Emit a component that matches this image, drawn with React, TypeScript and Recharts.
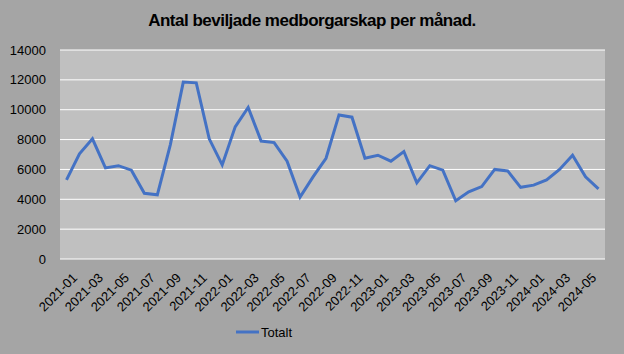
import { LineChart, Line, XAxis, YAxis, CartesianGrid, Legend } from "recharts";

const months = [
  "2021-01", "2021-02", "2021-03", "2021-04", "2021-05", "2021-06",
  "2021-07", "2021-08", "2021-09", "2021-10", "2021-11", "2021-12",
  "2022-01", "2022-02", "2022-03", "2022-04", "2022-05", "2022-06",
  "2022-07", "2022-08", "2022-09", "2022-10", "2022-11", "2022-12",
  "2023-01", "2023-02", "2023-03", "2023-04", "2023-05", "2023-06",
  "2023-07", "2023-08", "2023-09", "2023-10", "2023-11", "2023-12",
  "2024-01", "2024-02", "2024-03", "2024-04", "2024-05", "2024-06",
];

const totalt = [
  5300, 7050, 8050, 6100, 6250, 5950, 4400, 4300, 7650, 11850, 11800, 8050,
  6300, 8850, 10150, 7900, 7800, 6550, 4150, 5500, 6750, 9650, 9500, 6750,
  6950, 6550, 7200, 5100, 6250, 5950, 3900, 4500, 4850, 6000, 5900, 4800,
  4950, 5300, 6000, 6950, 5500, 4700,
];

const yTicks = [0, 2000, 4000, 6000, 8000, 10000, 12000, 14000];

const data = months.map((m, i) => ({ month: m, totalt: totalt[i] }));

const font = "'Liberation Sans', Arial, sans-serif";

function MonthTick(props: any) {
  const { x, y, payload } = props;
  return (
    <g transform={`translate(${x + 5},${y + 5})`}>
      <text transform="rotate(-45)" textAnchor="end" dy="0.71em" fill="#000" fontSize={13} fontFamily={font}>
        {payload.value}
      </text>
    </g>
  );
}

function LegendContent() {
  return (
    <div style={{ display: "flex", alignItems: "center", height: 26, paddingLeft: 236, fontFamily: font, fontSize: 13, color: "#000" }}>
      <svg width={24} height={10}>
        <line x1={0} y1={5} x2={23} y2={5} stroke="#4472c4" strokeWidth={3} />
      </svg>
      <span style={{ marginLeft: 1 }}>Totalt</span>
    </div>
  );
}

export default function App() {
  return (
    <div style={{ position: "absolute", left: 0, top: 0, width: 624, height: 354, background: "#a5a5a5" }}>
      <div
        style={{
          position: "absolute",
          top: 11,
          left: 0,
          width: 624,
          textAlign: "center",
          fontFamily: font,
          fontWeight: "bold",
          fontSize: 17,
          letterSpacing: -0.5,
          color: "#000",
        }}
      >
        Antal beviljade medborgarskap per månad.
      </div>
      <LineChart width={624} height={354} data={data} margin={{ top: 50, right: 19, left: 0, bottom: 9 }}>
        <CartesianGrid vertical={false} stroke="#ffffff" fill="#c0c0c0" />
        <XAxis
          dataKey="month"
          interval={1}
          padding={{ left: 6.5, right: 6.5 }}
          height={60}
          axisLine={false}
          tickLine={false}
          tick={<MonthTick />}
        />
        <YAxis
          domain={[0, 14000]}
          ticks={yTicks}
          width={60}
          axisLine={false}
          tickLine={false}
          tick={{ fill: "#000", fontSize: 13, fontFamily: font, dx: -6 }}
        />
        <Legend
          verticalAlign="bottom"
          height={26}
          wrapperStyle={{ top: 319, left: 0, width: 624, height: 26 }}
          content={<LegendContent />}
        />
        <Line
          type="linear"
          dataKey="totalt"
          name="Totalt"
          stroke="#4472c4"
          strokeWidth={3}
          dot={false}
          isAnimationActive={false}
        />
      </LineChart>
    </div>
  );
}
